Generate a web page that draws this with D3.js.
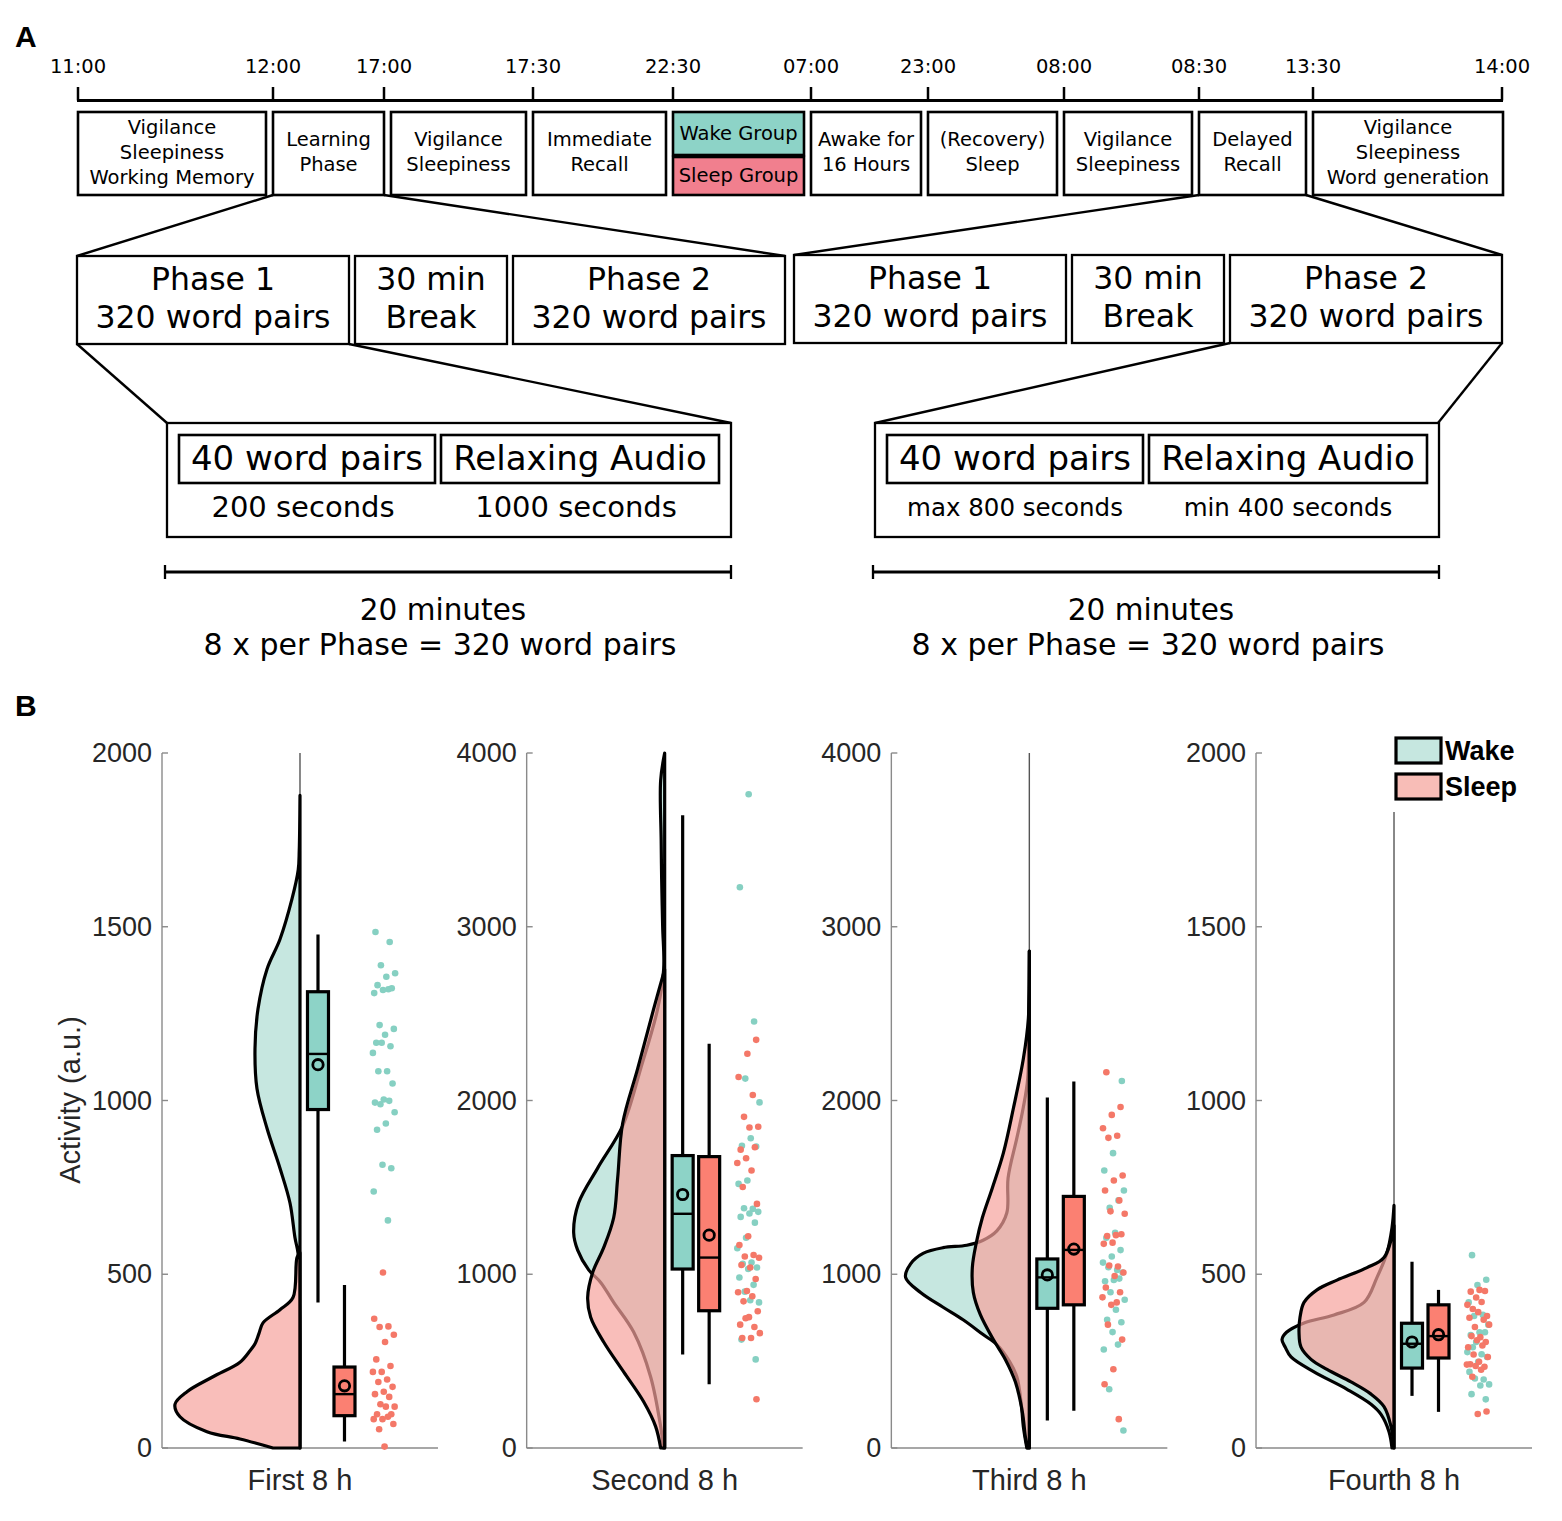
<!DOCTYPE html>
<html><head><meta charset="utf-8">
<script src="https://cdn.jsdelivr.net/npm/d3@7"></script>
<style>body{margin:0;background:#fff}svg{display:block}</style>
</head><body><svg id="c" width="1562" height="1521"></svg>
<script>
// ================= DATA =================
// Panel A: study timeline
const timeLabels = ["11:00","12:00","17:00","17:30","22:30","07:00","23:00","08:00","08:30","13:30","14:00"];
const timelineBoxes = [
  ["Vigilance","Sleepiness","Working Memory"],
  ["Learning","Phase"],
  ["Vigilance","Sleepiness"],
  ["Immediate","Recall"],
  null, // group split box
  ["Awake for","16 Hours"],
  ["(Recovery)","Sleep"],
  ["Vigilance","Sleepiness"],
  ["Delayed","Recall"],
  ["Vigilance","Sleepiness","Word generation"]
];
const groupLabels = ["Wake Group","Sleep Group"];
const phaseBoxes = [["Phase 1","320 word pairs"],["30 min","Break"],["Phase 2","320 word pairs"]];
const blockLabels = ["40 word pairs","Relaxing Audio"];
const learningDurations = ["200 seconds","1000 seconds"];
const recallDurations = ["max 800 seconds","min 400 seconds"];
const blockSummary = ["20 minutes","8 x per Phase = 320 word pairs"];

// Panel B: raincloud plots
const categories = ["First 8 h","Second 8 h","Third 8 h","Fourth 8 h"];
const groups = ["Wake","Sleep"];
const yMaxima = [2000,4000,4000,2000];
const yTickValues = [[0,500,1000,1500,2000],[0,1000,2000,3000,4000],[0,1000,2000,3000,4000],[0,500,1000,1500,2000]];

// half-violin density profiles: [activity, relative density]
const wakeDensity = [
  [[1878,0],[1720,0.006],[1664,0.014],[1580,0.064],[1464,0.16],[1378,0.264],[1263,0.336],[1149,0.36],[1034,0.344],[920,0.264],[805,0.16],[705,0.08],[605,0.04],[562,0.016],[500,0.004],[0,0]],
  [[4000,0],[3843,0.032],[3500,0.028],[3270,0.024],[3000,0.016],[2755,0.008],[2527,0.056],[2183,0.192],[1854,0.336],[1611,0.536],[1411,0.688],[1239,0.728],[1139,0.696],[1025,0.608],[953,0.512],[838,0.408],[667,0.248],[409,0.112],[123,0.032],[0,0.01]],
  [[2860,0],[2500,0.005],[2126,0.013],[1954,0.05],[1783,0.1],[1554,0.17],[1354,0.18],[1250,0.26],[1196,0.37],[1167,0.5],[1153,0.69],[1120,0.85],[1060,0.95],[982,0.99],[895,0.87],[810,0.69],[738,0.53],[653,0.37],[595,0.26],[500,0.16],[410,0.1],[250,0.064],[123,0.048],[0,0.02]],
  [[698,0],[634,0.016],[562,0.056],[491,0.136],[419,0.24],[383,0.48],[360,0.72],[333,0.86],[312,0.896],[290,0.87],[262,0.824],[219,0.64],[169,0.376],[126,0.184],[97,0.104],[47,0.04],[0,0.016]]
];
const sleepDensity = [
  [[562,0],[548,0.024],[433,0.056],[398,0.16],[360,0.296],[330,0.328],[300,0.36],[280,0.4],[247,0.48],[205,0.696],[162,0.904],[126,1.0],[90,0.96],[47,0.744],[26,0.48],[0,0.216]],
  [[2755,0],[2527,0.088],[2183,0.216],[1869,0.336],[1554,0.376],[1325,0.408],[1153,0.488],[1010,0.576],[867,0.616],[753,0.592],[610,0.488],[438,0.328],[266,0.168],[123,0.072],[0,0.032]],
  [[2860,0],[2470,0.008],[2240,0.048],[1954,0.128],[1697,0.208],[1497,0.296],[1325,0.376],[1182,0.424],[1039,0.456],[895,0.448],[767,0.392],[624,0.288],[510,0.192],[381,0.112],[209,0.056],[66,0.032],[0,0.016]],
  [[640,0],[548,0.08],[519,0.216],[483,0.456],[455,0.616],[419,0.72],[376,0.752],[333,0.76],[290,0.744],[255,0.664],[226,0.536],[190,0.344],[155,0.184],[119,0.08],[62,0.024],[0,0]]
];

// box plot summaries
const wakeBox = [
  {lo:419, q1:974, med:1134, q3:1313, hi:1478, mean:1103},
  {lo:538, q1:1030, med:1348, q3:1683, hi:3642, mean:1459},
  {lo:158, q1:804, med:982, q3:1088, hi:2017, mean:996},
  {lo:150, q1:230, med:300, q3:359, hi:536, mean:305}
];
const sleepBox = [
  {lo:19, q1:93, med:155, q3:233, hi:469, mean:179},
  {lo:367, q1:790, med:1096, q3:1677, hi:2326, mean:1225},
  {lo:215, q1:824, med:1140, q3:1448, hi:2109, mean:1145},
  {lo:104, q1:259, med:322, q3:412, hi:455, mean:326}
];

// individual observations
const wakePoints = [
  [1485,1456,1389,1366,1356,1332,1323,1318,1309,1320,1217,1206,1189,1166,1156,1166,1137,1084,1084,1049,1003,994,999,989,966,934,916,805,815,738,655],
  [3763,3227,2455,2126,1989,1783,1740,1735,1540,1520,1376,1380,1359,1350,1330,1297,1210,1150,1067,1060,1039,1030,981,939,900,838,850,624,510],
  [2112,1697,1597,1425,1382,1482,1239,1210,1139,1102,1067,1025,1040,1010,967,960,975,896,853,796,738,724,667,567,595,338,101],
  [555,484,469,419,383,380,355,333,325,333,305,276,270,290,262,248,219,197,200,183,180,155,140]
];
const sleepPoints = [
  [505,372,350,348,326,305,255,236,219,219,197,190,176,162,155,147,126,119,119,97,97,83,83,90,54,69,4],
  [2349,2269,2135,2032,1906,1849,1845,1717,1731,1668,1640,1597,1502,1405,1219,1168,1111,1102,1095,1039,1053,973,904,896,873,844,787,753,710,696,747,661,633,633,281],
  [2163,1963,1917,1840,1797,1785,1568,1540,1482,1425,1362,1348,1225,1220,1230,1182,1175,1045,1050,1010,990,924,896,824,867,838,710,624,453,367,166],
  [455,450,452,433,412,420,400,380,391,375,369,348,355,319,322,305,310,290,295,269,262,248,241,234,236,240,225,205,105,98]
];

// ================= DRAWING =================
const svg = d3.select("#c");
const FA = "'DejaVu Sans', Verdana, sans-serif";
const FB = "'Liberation Sans', Arial, Helvetica, sans-serif";
const COL = {wake:"#8dd3c7", sleep:"#fb8072", wakeViolin:"#c6e7e0", sleepViolin:"#f7a39c",
             wakeGroup:"#8dd3c7", sleepGroup:"#f17f8e", legendSleep:"#f8bdb7",
             wakeDot:"#86d0c2", sleepDot:"#f47868"};

svg.append("text").attr("x",15).attr("y",47).attr("font-family",FB).attr("font-weight","bold").attr("font-size",30).text("A");
svg.append("text").attr("x",15).attr("y",716).attr("font-family",FB).attr("font-weight","bold").attr("font-size",30).text("B");

// ---- Panel A ----
const A = svg.append("g").attr("font-family",FA).attr("fill","#000");
const tickX = d3.scaleOrdinal().domain(timeLabels).range([78,273,384,533,673,811,928,1064,1199,1313,1502]);
const axisY = 100.5;
A.append("line").attr("x1",tickX(timeLabels[0])-1).attr("x2",tickX(timeLabels[10])+1).attr("y1",axisY).attr("y2",axisY)
 .attr("stroke","#000").attr("stroke-width",3);
timeLabels.forEach(t=>{
  A.append("line").attr("x1",tickX(t)).attr("x2",tickX(t)).attr("y1",87).attr("y2",axisY).attr("stroke","#000").attr("stroke-width",2.5);
  A.append("text").attr("x",tickX(t)).attr("y",66).attr("text-anchor","middle").attr("dominant-baseline","central")
   .attr("font-size",19.5).text(t);
});
const leftInset  = [0,0,7,0,0,0,0,0,0,0];
const rightInset = [7,0,7,7,7,7,7,7,7,-1];
const row1 = {top:112, bottom:195};
const r1 = [];
timelineBoxes.forEach((lines,i)=>{
  const x0 = tickX(timeLabels[i]) + leftInset[i], x1 = tickX(timeLabels[i+1]) - rightInset[i];
  r1.push([x0,x1]);
  if(lines===null){
    A.append("rect").attr("x",x0).attr("y",row1.top).attr("width",x1-x0).attr("height",43)
      .attr("fill",COL.wakeGroup).attr("stroke","#000").attr("stroke-width",2.6);
    A.append("rect").attr("x",x0).attr("y",157).attr("width",x1-x0).attr("height",row1.bottom-157)
      .attr("fill",COL.sleepGroup).attr("stroke","#000").attr("stroke-width",2.6);
    A.append("text").attr("x",(x0+x1)/2).attr("y",133.5).attr("text-anchor","middle").attr("dominant-baseline","central").attr("font-size",19.5).text(groupLabels[0]);
    A.append("text").attr("x",(x0+x1)/2).attr("y",175).attr("text-anchor","middle").attr("dominant-baseline","central").attr("font-size",19.5).text(groupLabels[1]);
    return;
  }
  A.append("rect").attr("x",x0).attr("y",row1.top).attr("width",x1-x0).attr("height",row1.bottom-row1.top)
    .attr("fill","#fff").attr("stroke","#000").attr("stroke-width",2.6);
  const n = lines.length;
  lines.forEach((s,k)=>{
    A.append("text").attr("x",(x0+x1)/2).attr("y",152+(k-(n-1)/2)*25).attr("text-anchor","middle")
     .attr("dominant-baseline","central").attr("font-size",19.5).text(s);
  });
});

const phaseWidths = [272,152,272], phaseGap = 6;
function phaseRow(startX, rowTop){
  let x = startX; const out=[];
  phaseBoxes.forEach((lines,i)=>{
    const w = phaseWidths[i];
    A.append("rect").attr("x",x).attr("y",rowTop).attr("width",w).attr("height",88)
      .attr("fill","#fff").attr("stroke","#000").attr("stroke-width",2.3);
    lines.forEach((s,k)=>{
      A.append("text").attr("x",x+w/2).attr("y",rowTop+23+k*38).attr("text-anchor","middle")
       .attr("dominant-baseline","central").attr("font-size",31.5).text(s);
    });
    out.push([x,x+w]); x += w+phaseGap;
  });
  return out;
}
const pL = phaseRow(77,256), pR = phaseRow(794,255);

function block(x0, rowTop, durations, durSize){
  const W = 564, H = 114;
  A.append("rect").attr("x",x0).attr("y",rowTop).attr("width",W).attr("height",H)
    .attr("fill","#fff").attr("stroke","#000").attr("stroke-width",2.3);
  const inner = [[x0+12,256],[x0+274,278]];
  inner.forEach(([ix,iw],i)=>{
    A.append("rect").attr("x",ix).attr("y",rowTop+12).attr("width",iw).attr("height",48)
      .attr("fill","#fff").attr("stroke","#000").attr("stroke-width",2.6);
    A.append("text").attr("x",ix+iw/2).attr("y",rowTop+35).attr("text-anchor","middle").attr("dominant-baseline","central")
      .attr("font-size",34).text(blockLabels[i]);
    A.append("text").attr("x",ix+iw/2-(durSize>26?4:0)).attr("y",rowTop+84).attr("text-anchor","middle").attr("dominant-baseline","central")
      .attr("font-size",durSize).text(durations[i]);
  });
  const bx0 = x0-2, bx1 = x0+W;
  A.append("line").attr("x1",bx0).attr("x2",bx1).attr("y1",572).attr("y2",572).attr("stroke","#000").attr("stroke-width",3);
  [bx0,bx1].forEach(bx=>A.append("line").attr("x1",bx).attr("x2",bx).attr("y1",565).attr("y2",579).attr("stroke","#000").attr("stroke-width",2.3));
  A.append("text").attr("x",x0+W/2-6).attr("y",610).attr("text-anchor","middle").attr("dominant-baseline","central").attr("font-size",29.5).text(blockSummary[0]);
  A.append("text").attr("x",x0+W/2-9).attr("y",644).attr("text-anchor","middle").attr("dominant-baseline","central").attr("font-size",30).text(blockSummary[1]);
  return [x0, x0+W];
}
const bL = block(167,423,learningDurations,29);
const bR = block(875,423,recallDurations,24.5);

const conn = [
  [r1[1][0],row1.bottom,pL[0][0],256],[r1[1][1],row1.bottom,pL[2][1],256],
  [r1[8][0],row1.bottom,pR[0][0],255],[r1[8][1],row1.bottom,pR[2][1],255],
  [pL[0][0],344,bL[0],423],[pL[0][1],344,bL[1],423],
  [pR[2][0],343,bR[0],423],[pR[2][1],343,bR[1]-1,423]
];
conn.forEach(c=>A.append("line").attr("x1",c[0]).attr("y1",c[1]).attr("x2",c[2]).attr("y2",c[3])
  .attr("stroke","#000").attr("stroke-width",2.4));

// ---- Panel B ----
const B = svg.append("g").attr("font-family",FB);
const band = d3.scaleBand().domain(categories).range([162,1532]).paddingInner(0.2432);
const bw = band.bandwidth();
const plotTop = 753, plotBottom = 1448;
const dens = d3.scaleLinear().domain([0,1]).range([0,125]);
const offs = d3.scaleOrdinal().domain(["violin","Wake","Sleep","points"]).range([0.5,0.5+18/276,0.5+44.5/276,0.5+84/276]);
const jitterW = 23;
const SW = 3.2;

function violinPath(data, cx, y){
  const pts = data.slice().sort((a,b)=>b[0]-a[0]).map(d=>[cx - dens(d[1]), y(d[0])]);
  const line = d3.line().curve(d3.curveCatmullRom.alpha(0.5));
  const first = pts[0], last = pts[pts.length-1];
  return line(pts) + `L${cx},${last[1]}L${cx},${first[1]}Z`;
}

categories.forEach((cat,i)=>{
  const x0 = band(cat);
  const y = d3.scaleLinear().domain([0,yMaxima[i]]).range([plotBottom,plotTop]);
  const g = B.append("g");
  const cx = x0 + bw*offs("violin");
  g.append("line").attr("x1",cx).attr("x2",cx).attr("y1",plotTop).attr("y2",plotBottom).attr("stroke","#555").attr("stroke-width",1.4);
  g.append("line").attr("x1",x0).attr("x2",x0).attr("y1",plotTop).attr("y2",plotBottom).attr("stroke","#8a8a8a").attr("stroke-width",1.4);
  g.append("line").attr("x1",x0).attr("x2",x0+bw).attr("y1",plotBottom).attr("y2",plotBottom).attr("stroke","#8a8a8a").attr("stroke-width",1.4);
  yTickValues[i].forEach(v=>{
    g.append("line").attr("x1",x0).attr("x2",x0+6).attr("y1",y(v)).attr("y2",y(v)).attr("stroke","#8a8a8a").attr("stroke-width",1.4);
    g.append("text").attr("x",x0-10).attr("y",y(v)).attr("text-anchor","end").attr("dominant-baseline","central")
      .attr("font-size",27).attr("fill","#262626").text(v);
  });
  g.append("text").attr("x",cx).attr("y",1480).attr("text-anchor","middle").attr("dominant-baseline","central")
    .attr("font-size",29).attr("fill","#262626").text(cat);

  g.append("path").attr("d",violinPath(wakeDensity[i],cx,y)).attr("fill",COL.wakeViolin)
    .attr("stroke","#000").attr("stroke-width",SW).attr("stroke-linejoin","round");
  g.append("path").attr("d",violinPath(sleepDensity[i],cx,y)).attr("fill",COL.sleepViolin).attr("fill-opacity",0.7)
    .attr("stroke","#000").attr("stroke-width",SW).attr("stroke-linejoin","round");

  [[wakeBox[i],COL.wake,"Wake"],[sleepBox[i],COL.sleep,"Sleep"]].forEach(([b,col,grp])=>{
    const bx = x0 + bw*offs(grp), hw = 10.5;
    g.append("line").attr("x1",bx).attr("x2",bx).attr("y1",y(b.lo)).attr("y2",y(b.hi)).attr("stroke","#000").attr("stroke-width",SW);
    g.append("rect").attr("x",bx-hw).attr("width",2*hw).attr("y",y(b.q3)).attr("height",y(b.q1)-y(b.q3))
      .attr("fill",col).attr("stroke","#000").attr("stroke-width",SW);
    g.append("line").attr("x1",bx-hw).attr("x2",bx+hw).attr("y1",y(b.med)).attr("y2",y(b.med)).attr("stroke","#000").attr("stroke-width",2.4);
    g.append("circle").attr("cx",bx).attr("cy",y(b.mean)).attr("r",5.2).attr("fill","none").attr("stroke","#000").attr("stroke-width",2.8);
  });

  const px = x0 + bw*offs("points");
  const jit = k => ((k*0.6180339887 + 0.37*i + 0.13) % 1) - 0.5;
  wakePoints[i].forEach((v,k)=>g.append("circle").attr("cx",px+jit(k)*jitterW).attr("cy",y(v)).attr("r",3.3).attr("fill",COL.wakeDot));
  sleepPoints[i].forEach((v,k)=>g.append("circle").attr("cx",px+jit(k+7)*jitterW).attr("cy",y(v)).attr("r",3.3).attr("fill",COL.sleepDot));
});

B.append("text").attr("transform","translate(70,1100) rotate(-90)").attr("text-anchor","middle").attr("dominant-baseline","central")
  .attr("font-size",29).attr("fill","#262626").text("Activity (a.u.)");

const lg = B.append("g");
lg.append("rect").attr("x",1386).attr("y",733).attr("width",146).attr("height",79).attr("fill","#fff");
groups.forEach((gname,k)=>{
  const yy = 738 + k*36;
  lg.append("rect").attr("x",1396).attr("y",yy).attr("width",45).attr("height",25)
    .attr("fill",k===0?COL.wakeViolin:COL.legendSleep).attr("stroke","#000").attr("stroke-width",3.2);
  lg.append("text").attr("x",1445).attr("y",yy+13).attr("dominant-baseline","central").attr("font-size",27)
    .attr("font-weight","bold").attr("fill","#000").text(gname);
});
</script></body></html>
